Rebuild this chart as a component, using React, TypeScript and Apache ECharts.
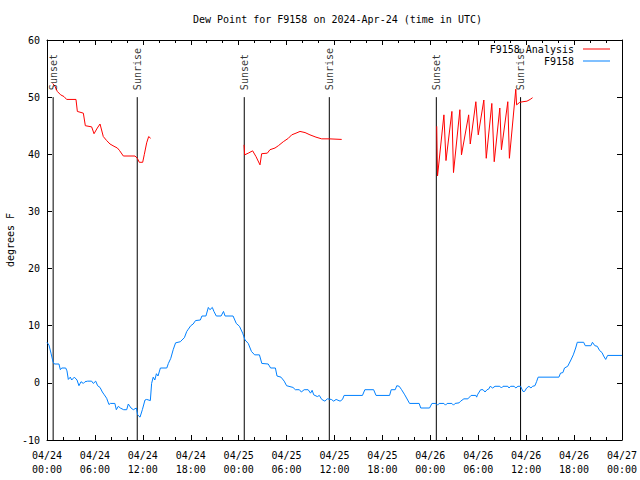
import { useEffect, useRef } from "react";
import * as echarts from "echarts";

const titleText = "Dew Point for F9158 on 2024-Apr-24 (time in UTC)";
const yAxisName = "degrees F";

const xTickLabels = [
  "04/24\n00:00", "04/24\n06:00", "04/24\n12:00", "04/24\n18:00",
  "04/25\n00:00", "04/25\n06:00", "04/25\n12:00", "04/25\n18:00",
  "04/26\n00:00", "04/26\n06:00", "04/26\n12:00", "04/26\n18:00",
  "04/27\n00:00",
];

// hours since 2024-04-24 00:00 UTC, dew point (F)
const dewPoint: [number, number][] = [
  [0, 7.1], [0.25, 6.6], [0.5, 5.2], [0.75, 3.7], [0.92, 3.3], [1.5, 3.3], [1.67, 2.3], [1.84, 2.6],
  [2.34, 2.6], [2.5, 2.1], [2.67, 0.6], [2.92, 1.0], [3.09, 0.5], [3.42, 1.0], [3.76, 0.5], [4.0, -0.5],
  [4.26, 0.2], [4.55, -0.1], [4.76, 0.2], [5.09, 0.3], [5.59, 0.3], [5.8, -0.1], [6.1, 0.3], [6.34, -0.5],
  [6.64, -0.8], [6.93, -1.6], [7.18, -2.1], [7.47, -2.7], [7.76, -3.8], [7.93, -3.6], [8.5, -3.6],
  [8.68, -4.7], [8.93, -4.1], [9.18, -4.4], [9.6, -4.7], [9.98, -4.7], [10.18, -3.7], [10.52, -4.4],
  [10.81, -4.7], [11.19, -4.4], [11.35, -5.6], [11.65, -6.0], [11.94, -4.7], [12.27, -3.0], [12.48, -2.9],
  [12.94, -3.1], [13.1, -0.1], [13.3, 1.0], [13.5, 0.5], [13.7, 1.6], [13.9, 1.2], [14.2, 2.6], [15.0, 2.6],
  [15.2, 3.4], [15.5, 4.3], [15.8, 5.8], [16.1, 7.0], [16.7, 7.2], [16.9, 7.5], [17.2, 7.9], [17.5, 9.0],
  [17.7, 9.4], [18.0, 10.0], [18.3, 10.3], [18.6, 10.9], [19.2, 11.0], [19.4, 11.7], [19.9, 11.7],
  [20.2, 13.2], [20.4, 12.8], [20.7, 13.2], [20.9, 12.5], [21.2, 11.7], [21.8, 11.7], [22.1, 12.5],
  [22.3, 11.7], [23.3, 11.7], [23.7, 10.4], [24.1, 9.9], [24.5, 8.7], [24.8, 7.5], [25.2, 6.9], [25.6, 5.5],
  [26.0, 4.9], [26.6, 4.9], [26.9, 3.4], [27.7, 3.3], [28.0, 2.6], [28.6, 2.6], [28.8, 1.2], [29.3, 1.0],
  [29.7, 0.3], [30.0, -0.5], [30.8, -0.8], [31.1, -1.2], [31.6, -1.2], [31.85, -1.6], [32.2, -1.2],
  [32.7, -1.2], [33.0, -1.8], [33.2, -1.3], [33.4, -2.1], [33.85, -2.4], [34.1, -2.2], [34.4, -2.9],
  [34.8, -3.2], [35.1, -2.8], [35.6, -2.9], [35.9, -3.2], [36.2, -2.9], [36.7, -3.2], [37.0, -2.9],
  [37.2, -2.2], [39.5, -2.2], [39.8, -1.2], [40.9, -1.2], [41.2, -2.2], [42.9, -2.2], [43.1, -1.2],
  [43.6, -1.2], [43.8, -0.5], [44.1, -0.6], [44.4, -1.2], [44.8, -2.1], [45.4, -3.6], [46.6, -3.6],
  [46.8, -4.4], [47.9, -4.4], [48.2, -3.6], [48.7, -3.6], [48.9, -3.9], [49.1, -3.6], [49.7, -3.6],
  [49.9, -3.9], [50.1, -3.6], [50.7, -3.6], [50.9, -3.9], [51.1, -3.6], [51.6, -3.5], [51.8, -3.2],
  [52.2, -2.8], [52.7, -2.8], [53.1, -2.2], [53.7, -2.2], [53.8, -2.5], [53.9, -2.1], [54.3, -1.2],
  [54.6, -1.2], [54.85, -1.6], [55.1, -1.2], [55.3, -1.1], [55.5, -0.6], [55.8, -0.9], [56.1, -0.6],
  [56.7, -0.6], [56.9, -0.9], [57.1, -0.6], [57.7, -0.6], [57.85, -0.9], [58.06, -0.6], [58.5, -0.6],
  [58.7, -0.9], [58.97, -0.6], [59.3, -0.6], [59.6, -1.5], [59.8, -1.5], [60.06, -0.9], [60.35, -0.6],
  [60.6, -0.9], [60.8, -0.6], [61.1, -0.5], [61.3, 0.2], [61.5, 1.0], [64.1, 1.0], [64.3, 1.7],
  [64.6, 1.8], [64.8, 2.6], [65.2, 2.9], [65.6, 4.0], [65.9, 4.9], [66.2, 6.1], [66.4, 7.1], [67.2, 7.1],
  [67.4, 6.5], [68.1, 6.5], [68.3, 7.1], [68.6, 6.5], [68.9, 6.4], [69.2, 5.65], [69.5, 5.3], [69.7, 4.7],
  [69.96, 4.1], [70.2, 4.8], [72, 4.8],
];

const analysisNight1: [number, number][] = [
  [0.71, 52.4], [1.0, 51.9], [1.29, 51.0], [1.71, 50.4], [2.13, 50.1], [2.46, 49.6], [3.63, 49.6],
  [3.8, 47.5], [4.55, 47.2], [4.8, 45.0], [5.59, 44.8], [5.89, 43.6], [6.3, 44.6], [6.64, 45.3],
  [7.05, 43.1], [7.47, 42.4], [7.89, 41.8], [8.39, 41.4], [8.81, 41.1], [9.06, 40.7], [9.56, 39.7],
  [11.02, 39.7], [11.31, 39.3], [11.56, 38.6], [11.98, 38.6], [12.19, 40.0], [12.48, 42.0],
  [12.73, 43.1], [12.98, 42.8],
];

const analysisNight2: [number, number][] = [
  [24.67, 41.65], [24.75, 39.9], [25.2, 40.2], [25.75, 40.6], [26.17, 39.6], [26.67, 38.15],
  [26.88, 40.1], [27.59, 40.2], [27.92, 40.8], [28.55, 41.1], [28.97, 41.5], [29.59, 42.2],
  [30.22, 42.8], [30.64, 43.4], [31.18, 43.7], [31.68, 44.0], [32.31, 43.8], [32.93, 43.4],
  [33.68, 43.0], [34.39, 42.7], [35.35, 42.7], [36.9, 42.6],
];

const analysisNight3: [number, number][] = [
  [48.8, 44.9], [48.9, 36.2], [49.7, 46.9], [49.96, 38.9], [50.7, 47.5], [50.9, 36.8], [51.7, 47.8],
  [51.9, 39.9], [52.8, 46.9], [53.0, 41.8], [53.7, 49.2], [54.0, 43.4], [54.7, 49.5], [55.0, 39.3],
  [55.7, 48.9], [56.0, 38.7], [56.7, 48.1], [56.9, 40.8], [57.7, 49.2], [57.9, 39.3], [58.7, 51.4],
  [58.8, 48.65], [59.2, 49.1], [59.6, 49.2], [60.1, 49.3], [60.5, 49.6], [60.8, 49.9],
];

const sunEvents = [
  { name: "Sunset", hour: 0.77 },
  { name: "Sunrise", hour: 11.3 },
  { name: "Sunset", hour: 24.7 },
  { name: "Sunrise", hour: 35.35 },
  { name: "Sunset", hour: 48.75 },
  { name: "Sunrise", hour: 59.3 },
];
const sunLineTop = 50;
const sunLineBottom = -10;

const FONT = "DejaVu Sans Mono";

export default function App() {
  const ref = useRef<HTMLDivElement>(null);
  useEffect(() => {
    document.body.style.margin = "0";
    const chart = echarts.init(ref.current!, null, { renderer: "svg" });

    const analysis: any[] = [
      ...analysisNight1,
      [18, "-"],
      ...analysisNight2,
      [42, "-"],
      ...analysisNight3,
    ];
    const sunLines: any[] = [];
    sunEvents.forEach((e) => {
      sunLines.push([e.hour, sunLineTop], [e.hour, sunLineBottom], [e.hour, "-"]);
    });

    const text = { fontFamily: FONT, fontSize: 10, color: "#000" };
    const axisLine = { show: true, onZero: false, lineStyle: { color: "#000", width: 1 } };

    const xBase = {
      type: "value",
      min: 0,
      max: 72,
      interval: 6,
      axisLine,
      axisTick: { show: true, inside: true, length: 5, lineStyle: { color: "#000" } },
      minorTick: { show: true, splitNumber: 3, length: 3, lineStyle: { color: "#000" } },
      splitLine: { show: false },
      minorSplitLine: { show: false },
    };
    const yBase = {
      type: "value",
      min: -10,
      max: 60,
      interval: 10,
      axisLine,
      axisTick: { show: true, inside: true, length: 5, lineStyle: { color: "#000" } },
      splitLine: { show: false },
    };

    chart.setOption({
      animation: false,
      backgroundColor: "#fff",
      textStyle: text,
      title: {
        text: titleText,
        left: 188,
        top: 9,
        textStyle: { ...text, fontWeight: "normal" },
      },
      legend: {
        data: ["F9158 Analysis", "F9158"],
        orient: "vertical",
        right: 30,
        top: 44,
        padding: 0,
        align: "right",
        icon: "rect",
        itemWidth: 27,
        itemHeight: 1,
        itemGap: 2,
        selectedMode: false,
        textStyle: { ...text, padding: [0, 4, 0, 0] },
      },
      grid: { left: 47, right: 18, top: 40, bottom: 40, outerBoundsMode: "none", containLabel: false },
      xAxis: [
        {
          ...xBase,
          position: "bottom",
          axisLabel: {
            ...text,
            margin: 8,
            lineHeight: 14,
            formatter: (v: number) => xTickLabels[Math.round(v / 6)] ?? "",
          },
        },
        { ...xBase, position: "top", axisLabel: { show: false } },
      ],
      yAxis: [
        {
          ...yBase,
          position: "left",
          axisLabel: { ...text, margin: 7 },
          name: yAxisName,
          nameLocation: "middle",
          nameGap: 32,
          nameRotate: 90,
          nameMoveOverlap: false,
          nameTextStyle: text,
        },
        { ...yBase, position: "right", axisLabel: { show: false } },
      ],
      series: [
        {
          name: "sun",
          type: "line",
          data: sunLines,
          symbol: "none",
          connectNulls: false,
          lineStyle: { color: "#000", width: 1 },
          itemStyle: { color: "#000" },
          silent: true,
          z: 1,
        },
        {
          name: "sunLabels",
          type: "scatter",
          data: sunEvents.map((e) => ({ name: e.name, value: [e.hour, sunLineTop] })),
          symbolSize: 0,
          silent: true,
          label: {
            show: true,
            formatter: "{b}",
            position: "top",
            distance: 7,
            rotate: 90,
            align: "left",
            verticalAlign: "middle",
            ...text,
          },
          z: 4,
        },
        {
          name: "F9158 Analysis",
          type: "line",
          data: analysis,
          symbol: "none",
          connectNulls: false,
          lineStyle: { color: "#ff0000", width: 1 },
          itemStyle: { color: "#ff0000" },
          z: 3,
        },
        {
          name: "F9158",
          type: "line",
          data: dewPoint,
          symbol: "none",
          lineStyle: { color: "#0080ff", width: 1 },
          itemStyle: { color: "#0080ff" },
          z: 2,
        },
      ],
    });
    return () => chart.dispose();
  }, []);
  return (
    <div
      ref={ref}
      style={{ position: "absolute", left: 0, top: 0, width: 640, height: 480 }}
    />
  );
}
